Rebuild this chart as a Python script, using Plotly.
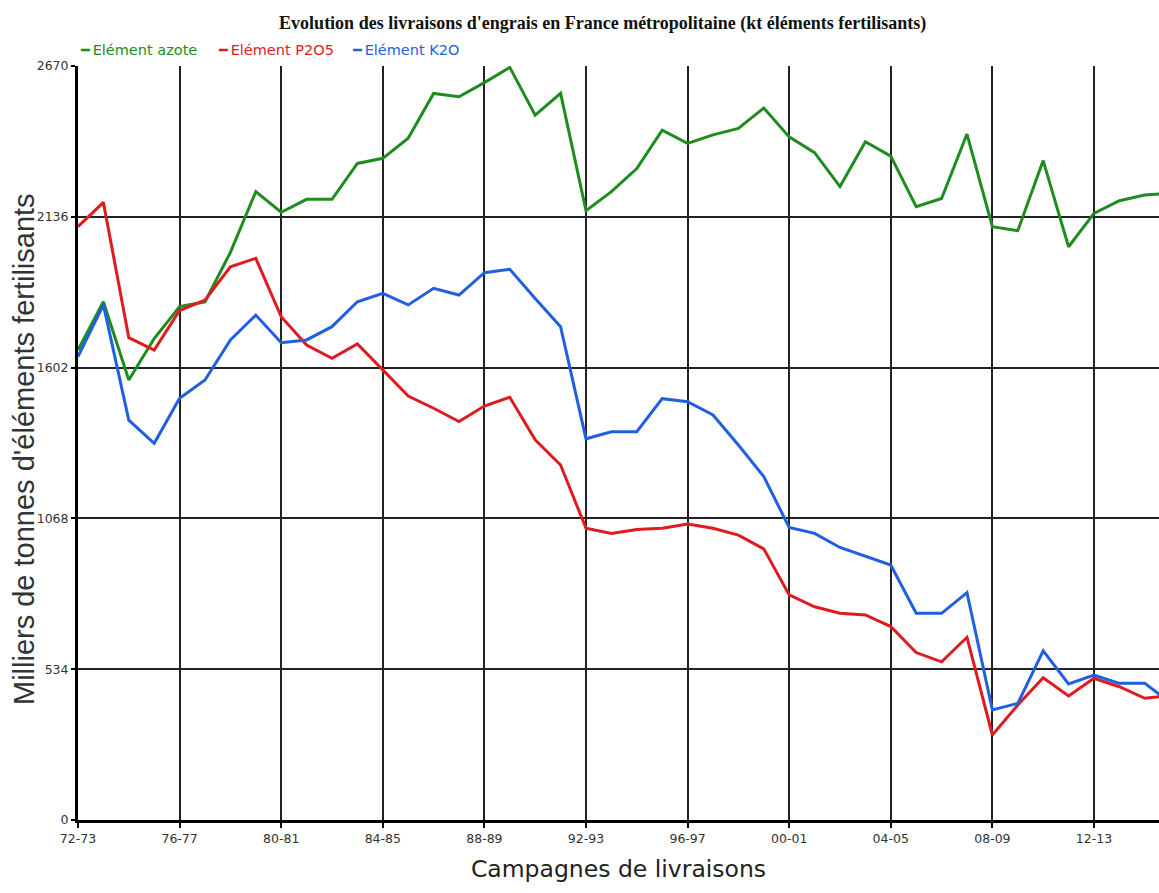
import plotly.graph_objects as go

campagnes = [f"{y % 100:02d}-{(y + 1) % 100:02d}" for y in range(1972, 2016)]

azote = [1664, 1835, 1558, 1705, 1818, 1835, 2010, 2225, 2152, 2198, 2198, 2325, 2343, 2414,
         2573, 2561, 2611, 2665, 2496, 2573, 2158, 2225, 2307, 2443, 2396, 2426, 2449, 2521,
         2419, 2363, 2243, 2402, 2351, 2172, 2201, 2429, 2101, 2087, 2335, 2030, 2148, 2193,
         2213, 2220]
p2o5 = [2101, 2187, 1708, 1664, 1804, 1841, 1959, 1989, 1782, 1682, 1635, 1686, 1594, 1501,
        1458, 1411, 1466, 1497, 1346, 1257, 1033, 1015, 1029, 1033, 1048, 1033, 1009, 960,
        797, 755, 732, 726, 685, 593, 560, 647, 301, 407, 504, 439, 502, 472, 431, 441]
k2o = [1641, 1824, 1416, 1334, 1493, 1558, 1700, 1788, 1690, 1700, 1747, 1835, 1865, 1824,
       1883, 1859, 1938, 1950, 1847, 1747, 1350, 1375, 1375, 1492, 1481, 1434, 1328, 1216,
       1036, 1015, 965, 935, 903, 732, 732, 805, 390, 413, 599, 482, 513, 484, 484, 416]

y_ticks = [0, 534, 1068, 1602, 2136, 2670]
x_ticks = campagnes[::4]

series_names = ["Elément azote", "Elément P2O5", "Elément K2O"]
series_vals = [azote, p2o5, k2o]
series_colors = ["#1e8c1e", "#e01b1f", "#1f5fe0"]
legend_x = [0.0, 0.1275, 0.2515]

fig = go.Figure()
for name, vals, col, lx in zip(series_names, series_vals, series_colors, legend_x):
    fig.add_trace(go.Scatter(
        x=campagnes, y=vals, mode="lines", line=dict(color=col, width=3),
        name=name, showlegend=False,
    ))
    fig.add_annotation(
        text=f"\u2501\u2009{name}", xref="paper", yref="paper", x=lx, y=1,
        xanchor="left", yanchor="middle", yshift=16, showarrow=False,
        font=dict(family="DejaVu Sans", size=14.5, color=col),
    )

fig.add_annotation(
    text="Milliers de tonnes d'éléments fertilisants", xref="paper", yref="paper",
    x=0, y=0.492, xanchor="center", yanchor="middle", xshift=-54, textangle=-90,
    showarrow=False, font=dict(family="Liberation Sans", size=29, color="#333"),
)

fig.update_layout(
    width=1159, height=893,
    margin=dict(l=78, r=0, t=66, b=73),
    paper_bgcolor="white", plot_bgcolor="white",
    title=dict(
        text="<b>Evolution des livraisons d'engrais en France métropolitaine (kt éléments fertilisants)</b>",
        x=0.52, xanchor="center", y=0.975, yanchor="middle",
        font=dict(family="Liberation Serif", size=18, color="#111"),
    ),
)

fig.update_xaxes(
    type="category", categoryorder="array", categoryarray=campagnes,
    range=[0, 42.56], tickmode="array", tickvals=x_ticks, ticktext=x_ticks,
    showgrid=True, gridcolor="#222", gridwidth=1.5,
    showline=True, linecolor="black", linewidth=3,
    ticks="outside", ticklen=5, tickcolor="black", tickwidth=2,
    tickfont=dict(family="DejaVu Sans", size=12.5, color="#333"),
    title=dict(text="Campagnes de livraisons", standoff=16,
               font=dict(family="DejaVu Sans", size=23.5, color="#222")),
    zeroline=False,
)
fig.update_yaxes(
    range=[0, 2670], tickmode="array", tickvals=y_ticks,
    showgrid=True, gridcolor="#222", gridwidth=1.5,
    showline=True, linecolor="black", linewidth=3,
    ticks="outside", ticklen=4, tickcolor="black", tickwidth=2,
    tickfont=dict(family="DejaVu Sans", size=12.5, color="#333"),
    zeroline=False,
)

fig.write_html(
    "out.html",
    config={"displayModeBar": False},
    post_script="document.body.style.margin='0';document.body.style.overflow='hidden';",
)
